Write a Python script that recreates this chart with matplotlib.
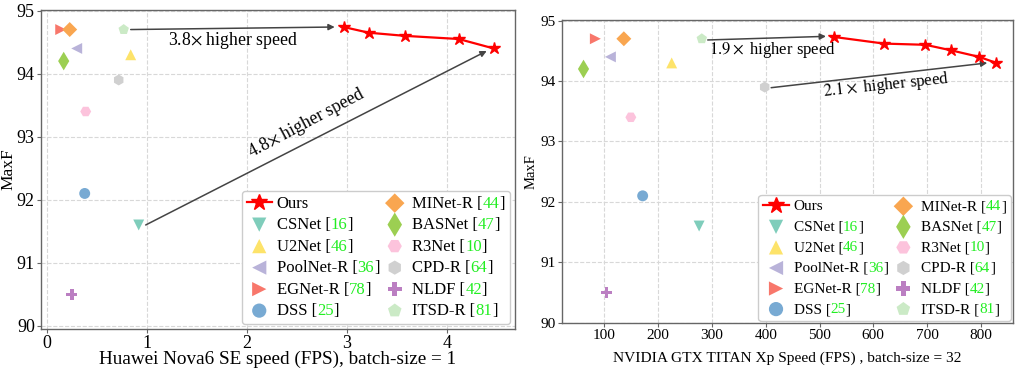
import matplotlib
matplotlib.use("Agg")
import matplotlib.pyplot as plt

plt.rcParams['font.family'] = ['Liberation Serif', 'DejaVu Serif']
plt.rcParams['mathtext.fontset'] = 'stix'

names = ["CSNet", "U2Net", "PoolNet-R", "EGNet-R", "DSS",
         "MINet-R", "BASNet", "R3Net", "CPD-R", "NLDF", "ITSD-R"]
refs = ["16", "46", "36", "78", "25", "44", "47", "10", "64", "42", "81"]
markers = ["v", "^", "<", ">", "o", "D", "d", "H", "h", "P", "p"]
colors = ["#7fcdbb", "#fde36a", "#b9b3d9", "#f8776b", "#78aad3",
          "#f9a650", "#9ccf52", "#fcc3dc", "#d0d0d0", "#bb7fc2", "#cbeac6"]

# Huawei Nova6 SE (FPS, batch 1)
ours_x1 = [2.97, 3.22, 3.58, 4.12, 4.47]
ours_y1 = [94.74, 94.65, 94.60, 94.55, 94.40]
oth_x1 = [0.92, 0.84, 0.30, 0.14, 0.38, 0.23, 0.17, 0.39, 0.72, 0.25, 0.77]
oth_y1 = [91.6, 94.3, 94.4, 94.7, 92.1, 94.7, 94.2, 93.4, 93.9, 90.5, 94.7]

# TITAN Xp (FPS, batch 32)
ours_x2 = [527, 620, 697, 744, 797, 829]
ours_y2 = [94.73, 94.62, 94.60, 94.51, 94.40, 94.30]
oth_x2 = [276, 225, 111, 83, 171, 136, 61, 149, 398, 104, 281]
oth_y2 = [91.6, 94.3, 94.4, 94.7, 92.1, 94.7, 94.2, 93.4, 93.9, 90.5, 94.7]

fig = plt.figure(figsize=(10.2, 3.69), dpi=100)
ax1 = fig.add_axes([0.0402, 0.1084, 0.4647, 0.8645])
ax2 = fig.add_axes([0.551, 0.1247, 0.4422, 0.821])


def draw(ax, ox, oy, px, py, fs_leg, pad, hl, ls):
    ax.set_axisbelow(True)
    ax.grid(True, ls='--', color='#d8d8d8', lw=0.8)
    for s in ax.spines.values():
        s.set_color('#666666')
        s.set_linewidth(1.0)
    ax.plot(ox, oy, '-', color='#ff0000', marker='*', ms=9, lw=1.6,
            label="Ours", zorder=4)
    for i in range(len(names)):
        ms = 62
        if markers[i] == 'd':
            ms = 90
        if markers[i] == 'D':
            ms = 58
        ax.scatter(px[i], py[i], marker=markers[i], s=ms, color=colors[i],
                   edgecolors='none', label=names[i] + " [" + refs[i] + "]",
                   zorder=3)
    leg = ax.legend(ncol=2, loc='lower right', fontsize=fs_leg,
                    frameon=True, fancybox=True, framealpha=1.0,
                    edgecolor='#cccccc', columnspacing=0.15,
                    handletextpad=0.3, labelspacing=ls,
                    borderpad=0.3, handlelength=hl, markerscale=1.3,
                    bbox_to_anchor=(1.0, 0.0), borderaxespad=pad)
    leg.set_zorder(5)
    for t, n, r in zip(leg.get_texts()[1:], names, refs):
        t.set_alpha(0)
        a = ax.annotate(n + " [", xy=(0, 0), xycoords=t,
                        va='bottom', ha='left',
                        fontsize=fs_leg, color='black', zorder=7,
                        annotation_clip=False)
        b = ax.annotate(r, xy=(1, 0), xycoords=a,
                        va='bottom', ha='left',
                        fontsize=fs_leg, color='#22ee22', zorder=7,
                        annotation_clip=False)
        ax.annotate("]", xy=(1, 0), xycoords=b,
                    va='bottom', ha='left',
                    fontsize=fs_leg, color='black', zorder=7,
                    annotation_clip=False)
    ax.tick_params(direction='out', length=3, color='#666666', pad=1.5)


arrow = dict(arrowstyle='-|>', color='#444444', lw=1.1, mutation_scale=9,
             shrinkA=0, shrinkB=0)

draw(ax1, ours_x1, ours_y1, oth_x1, oth_y1, 12.0, 0.3, 1.5, 0.33)
ax1.set_xlim(-0.057, 4.683)
ax1.set_ylim(89.95, 95.01)
ax1.set_xticks([0, 1, 2, 3, 4])
ax1.set_yticks([90, 91, 92, 93, 94, 95])
ax1.tick_params(labelsize=13)
ax1.set_xlabel("Huawei Nova6 SE speed (FPS), batch-size = 1", fontsize=13.8, labelpad=-1)
ax1.set_ylabel("MaxF", fontsize=12.5, labelpad=0)

ax1.annotate("", xy=(2.88, 94.74), xytext=(0.84, 94.7), arrowprops=arrow)
ax1.text(1.86, 94.53, r"3.8$\times$ higher speed", fontsize=12.8, ha='center', va='center')
ax1.annotate("", xy=(4.4, 94.36), xytext=(0.99, 91.6), arrowprops=arrow)
ax1.text(2.6, 93.22, r"4.8$\times$ higher speed", fontsize=12.8, ha='center',
         va='center', rotation=28, rotation_mode='anchor')

draw(ax2, ours_x2, ours_y2, oth_x2, oth_y2, 11.0, 0.15, 1.7, 0.45)
ax2.set_xlim(21, 860)
ax2.set_ylim(89.995, 95.01)
ax2.set_xticks([100, 200, 300, 400, 500, 600, 700, 800])
ax2.set_yticks([90, 91, 92, 93, 94, 95])
ax2.tick_params(labelsize=11)
ax2.set_xlabel("NVIDIA GTX TITAN Xp Speed (FPS) , batch-size = 32", fontsize=11.1, labelpad=7)
ax2.set_ylabel("MaxF", fontsize=10.5, labelpad=2)

ax2.annotate("", xy=(512, 94.74), xytext=(292, 94.68), arrowprops=arrow)
ax2.text(412, 94.51, r"$1.9\times$ higher speed", fontsize=12, ha='center', va='center')
ax2.annotate("", xy=(812, 94.3), xytext=(410, 93.89), arrowprops=arrow)
ax2.text(624, 93.93, r"$2.1\times$ higher speed", fontsize=12, ha='center',
         va='center', rotation=6, rotation_mode='anchor')

fig.canvas.draw()
fig.savefig("out.png", dpi=100)
